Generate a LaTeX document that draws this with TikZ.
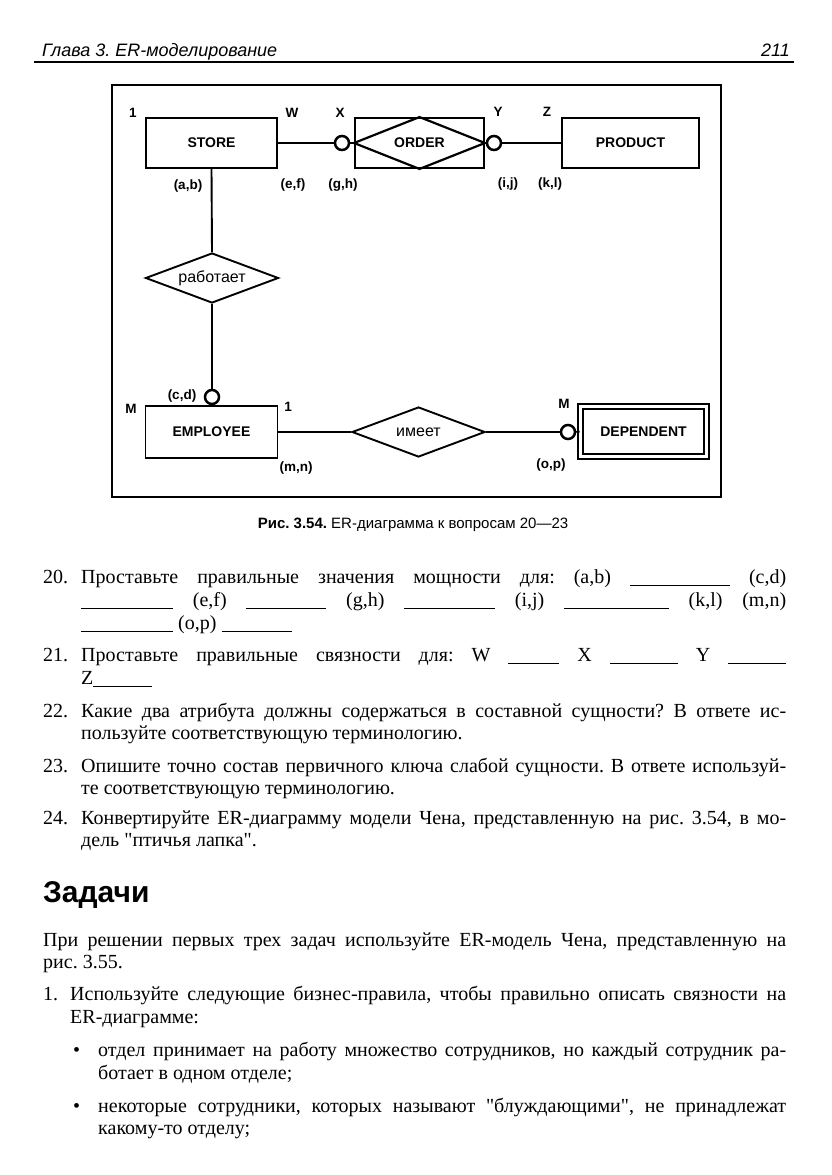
\documentclass[tikz,border=0pt]{standalone}
\usepackage{fontspec}
\setmainfont{Liberation Serif}
\newfontfamily\sansf{Liberation Sans}
\newfontfamily\qfont{Liberation Serif}
\usetikzlibrary{shapes.geometric}
\frenchspacing
\newcommand\bodyfont{\frenchspacing\fontsize{20}{23}\selectfont}
\newcommand\entfont{\sansf\bfseries\fontsize{14}{15}\selectfont}
\newcommand\relfont{\sansf\fontsize{16}{18}\selectfont}
\newcommand\labfont{\sansf\bfseries\fontsize{13.5}{15}\selectfont}
\newcommand\ul[1]{\rule[-3pt]{#1}{0.9pt}}
\newcommand\jl[2]{\makebox[#1][s]{#2}}
\newcommand\qq{{\qfont"}}
\tikzset{
  ent/.style={draw, rectangle, line width=1.9pt, inner sep=0pt, font=\entfont},
  rel/.style={draw, diamond, line width=1.9pt, inner sep=0pt, aspect=2.66,
              minimum width=133pt, minimum height=50pt, font=\relfont},
  opt/.style={draw, circle, line width=2.5pt, fill=white, inner sep=0pt, minimum size=14pt},
  lab/.style={inner sep=0pt, font=\labfont},
  conn/.style={line width=1.9pt},
  txt/.style={anchor=base west, inner sep=0pt, font=\bodyfont},
}
\begin{document}
\begin{tikzpicture}[x=1pt,y=-1pt]
\useasboundingbox (0,0) rectangle (831,1175);

% header
\node[anchor=base west, inner sep=0pt, font=\sansf\itshape\fontsize{18}{20}\selectfont] (hdr) at (42,56) {Глава 3. ER-моделирование};
\node[anchor=base east, inner sep=0pt, font=\sansf\itshape\fontsize{18}{20}\selectfont] (pg) at (790,56) {211};
\draw[line width=1.6pt] (34,62) -- (794,62);

% frame
\draw[line width=1.2pt] (112,85) rectangle (721,497);

% entities
\node[ent, minimum width=131pt, minimum height=50pt] (store) at (211.5,143) {STORE};
\node[ent, minimum width=129pt, minimum height=50pt] (order) at (419.5,143) {ORDER};
\draw[line width=2.2pt, line join=miter] (order.west) -- (order.north) -- (order.east) -- (order.south) -- cycle;
\node[ent, minimum width=137pt, minimum height=50pt] (product) at (630.5,143) {PRODUCT};
\node[ent, minimum width=132pt, minimum height=52pt] (employee) at (211.5,432) {EMPLOYEE};
\node[ent, double, double distance=3pt, line width=1.8pt, minimum width=126pt, minimum height=50pt] (dependent) at (643.5,431.5) {DEPENDENT};

% relationships
\node[rel] (works) at (212,278) {работает};
\node[rel] (has) at (418.5,432) {имеет};

% optionality circles
\node[opt] (cX) at (342,143) {};
\node[opt] (cY) at (494,143) {};
\node[opt] (cC) at (212,397) {};
\node[opt] (cD) at (568,432) {};

% connectors
\draw[conn] (store.east) -- (cX.west);
\draw[conn] (cX.east) -- (order.west);
\draw[conn] (order.east) -- (cY.west);
\draw[conn] (cY.east) -- (product.west);
\draw[conn] (store.south) -- (works.north);
\draw[conn] (works.south) -- (cC.north);
\draw[conn] (cC.south) -- (employee.north);
\draw[conn] (employee.east) -- (has.west);
\draw[conn] (has.east) -- (cD.west);
\draw[conn] (cD.east) -- (dependent.west);

% labels
\node[lab] (l1) at (133,113) {1};
\node[lab] (lW) at (292,113) {W};
\node[lab] (lX) at (340,113) {X};
\node[lab] (lY) at (498,112) {Y};
\node[lab] (lZ) at (547,112) {Z};
\node[lab] (lab) at (188,186) {(a,b)};
\node[lab] (lef) at (293,185) {(e,f)};
\node[lab] (lgh) at (343,185) {(g,h)};
\node[lab] (lij) at (508,184) {(i,j)};
\node[lab] (lkl) at (550,184) {(k,l)};
\node[lab] (lcd) at (182,396) {(c,d)};
\node[lab] (lM1) at (131,409) {M};
\node[lab] (l1b) at (288,407) {1};
\node[lab] (lmn) at (296,468) {(m,n)};
\node[lab] (lM2) at (564,404) {M};
\node[lab] (lop) at (551,465) {(o,p)};

% caption
\node[anchor=base, inner sep=0pt, font=\sansf\fontsize{15}{17}\selectfont] (cap) at (413,528) {{\bfseries Рис. 3.54.} ER-диаграмма к вопросам 20—23};

% question 20
\node[txt] (n20) at (43,583) {20.};
\node[txt] (q20a) at (81,583) {\jl{705pt}{Проставьте правильные значения мощности для: (a,b) \ul{100pt} (c,d)}};
\node[txt] (q20b) at (81,606) {\jl{705pt}{\ul{92pt} (e,f) \ul{80pt} (g,h) \ul{91pt} (i,j) \ul{105pt} (k,l) (m,n)}};
\node[txt] (q20c) at (81,629) {\ul{92pt} (o,p) \ul{70pt}};
% question 21
\node[txt] (n21) at (43,661) {21.};
\node[txt] (q21a) at (81,661) {\jl{705pt}{Проставьте правильные связности для: W \ul{51pt} X \ul{68pt} Y \ul{58pt}}};
\node[txt] (q21b) at (81,684) {Z\ul{59pt}};
% question 22
\node[txt] (n22) at (43,717) {22.};
\node[txt] (q22a) at (81,717) {\jl{705pt}{Какие два атрибута должны содержаться в составной сущности? В ответе ис-}};
\node[txt] (q22b) at (81,739) {пользуйте соответствующую терминологию.};
% question 23
\node[txt] (n23) at (43,772) {23.};
\node[txt] (q23a) at (81,772) {\jl{705pt}{Опишите точно состав первичного ключа слабой сущности. В ответе используй-}};
\node[txt] (q23b) at (81,794) {те соответствующую терминологию.};
% question 24
\node[txt] (n24) at (43,824) {24.};
\node[txt] (q24a) at (81,824) {\jl{705pt}{Конвертируйте ER-диаграмму модели Чена, представленную на рис. 3.54, в мо-}};
\node[txt] (q24b) at (81,846) {дель \qq птичья лапка\qq.};

% heading
\node[anchor=base west, inner sep=0pt, font=\sansf\bfseries\fontsize{30}{33}\selectfont] (head) at (43,902) {Задачи};

% paragraph
\node[txt] (p1) at (43,946) {\jl{743pt}{При решении первых трех задач используйте ER-модель Чена, представленную на}};
\node[txt] (p2) at (43,968) {рис. 3.55.};
% item 1
\node[txt] (n1) at (43,1000) {1.};
\node[txt] (i1a) at (70,1000) {\jl{716pt}{Используйте следующие бизнес-правила, чтобы правильно описать связности на}};
\node[txt] (i1b) at (70,1023) {ER-диаграмме:};
% bullets
\node[txt] (b1) at (73,1056) {•};
\node[txt] (b1a) at (98,1056) {\jl{688pt}{отдел принимает на работу множество сотрудников, но каждый сотрудник ра-}};
\node[txt] (b1b) at (98,1079) {ботает в одном отделе;};
\node[txt] (b2) at (73,1112) {•};
\node[txt] (b2a) at (98,1112) {\jl{688pt}{некоторые сотрудники, которых называют \qq блуждающими\qq, не принадлежат}};
\node[txt] (b2b) at (98,1134) {какому-то отделу;};
\end{tikzpicture}
\end{document}
